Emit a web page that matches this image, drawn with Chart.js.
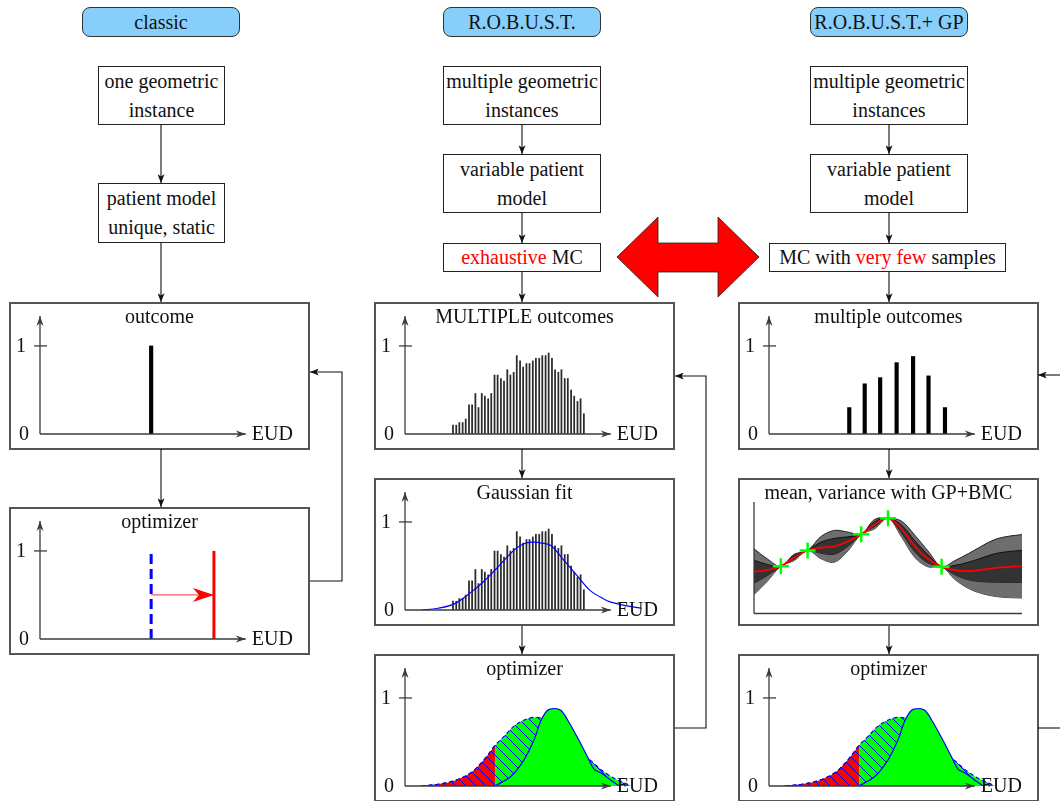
<!DOCTYPE html>
<html>
<head>
<meta charset="utf-8">
<title>classic / R.O.B.U.S.T. / R.O.B.U.S.T.+ GP</title>
<script src="https://cdn.jsdelivr.net/npm/chart.js@4.4.1/dist/chart.umd.min.js"></script>
<style>
  body { margin: 0; background: #fff; }
  #page { position: relative; width: 1060px; height: 801px; overflow: hidden;
          font-family: "Liberation Serif", "Times New Roman", serif; color: #111; }
  .pill { position: absolute; height: 30px; background: #87cefa; border: 1px solid #333;
          border-radius: 8px; box-sizing: border-box; font-size: 20px; line-height: 28px; text-align: center; }
  .box { position: absolute; border: 1px solid #222; box-sizing: border-box; background: #fff;
         font-size: 20px; line-height: 29px; display: flex; align-items: center; justify-content: center; text-align: center; }
  .panel { position: absolute; width: 301px; height: 148px; border: 2px solid #555; box-sizing: border-box; background: #fff; }
  .panel canvas { position: absolute; left: 0; top: 0; }
  .panel .ttl { position: absolute; left: 0; right: 0; top: 0; text-align: center; font-size: 20px; line-height: 24px; }
  .red { color: #ff0000; }
  svg { position: absolute; left: 0; top: 0; }
</style>
</head>
<body>
<div id="page">
  <div class="pill" style="left:82px;top:7px;width:158px">classic</div>
  <div class="pill" style="left:443px;top:7px;width:158px">R.O.B.U.S.T.</div>
  <div class="pill" style="left:810px;top:7px;width:158px">R.O.B.U.S.T.+ GP</div>

  <div class="box" style="left:98px;top:66px;width:127px;height:59px">one geometric<br>instance</div>
  <div class="box" style="left:98px;top:183px;width:127px;height:60px">patient model<br>unique, static</div>

  <div class="box" style="left:443px;top:66px;width:158px;height:59px">multiple geometric<br>instances</div>
  <div class="box" style="left:443px;top:154px;width:158px;height:59px">variable patient<br>model</div>
  <div class="box" style="left:443px;top:243px;width:158px;height:29px"><span class="red">exhaustive</span>&nbsp;MC</div>

  <div class="box" style="left:810px;top:66px;width:158px;height:59px">multiple geometric<br>instances</div>
  <div class="box" style="left:810px;top:154px;width:158px;height:59px">variable patient<br>model</div>
  <div class="box" style="left:769px;top:243px;width:237px;height:29px">MC with&nbsp;<span class="red">very few</span>&nbsp;samples</div>
</div>

<script>
// ---- data (EUD on a 0..100 axis, height on a 0..1 axis) ----
const yTickValues = [0, 1];
const yTickLabels = ['0', '1'];
const xAxisLabel = 'EUD';

// classic
const classicEUD = [54];
const classicHeight = [1];
const oldEUD = [54];
const newEUD = [84.5];
const shiftLevel = [0.5];

// R.O.B.U.S.T. histogram (exhaustive MC)
const histEUD = [23.3, 24.9, 26.4, 28.0, 29.5, 31.1, 32.6, 34.2, 35.7, 37.3, 38.8, 40.4, 41.9, 43.5,
                 45.0, 46.6, 48.1, 49.7, 51.2, 52.8, 54.3, 55.9, 57.4, 59.0, 60.5, 62.1, 63.6, 65.2,
                 66.7, 68.3, 69.8, 71.4, 72.9, 74.5, 76.0, 77.6, 79.1, 80.7, 82.2, 83.8, 85.3, 86.9];
const histCount = [0.10, 0.10, 0.13, 0.13, 0.17, 0.33, 0.33, 0.46, 0.30, 0.46, 0.43, 0.40, 0.46, 0.67,
                   0.67, 0.63, 0.60, 0.73, 0.67, 0.70, 0.89, 0.83, 0.76, 0.80, 0.80, 0.83, 0.86, 0.86,
                   0.89, 0.89, 0.92, 0.86, 0.73, 0.70, 0.73, 0.63, 0.63, 0.50, 0.43, 0.37, 0.40, 0.23];

// Gaussian fit
const gaussEUD = [8, 16, 24, 32, 38.5, 44, 48, 53, 57.5, 62, 66.5, 71, 77, 84, 90, 97, 100, 107, 115];
const gaussY = [0.0, 0.02, 0.07, 0.20, 0.33, 0.46, 0.56, 0.68, 0.75, 0.77, 0.76, 0.73, 0.57, 0.38, 0.22, 0.12, 0.09, 0.05, 0.02];

// optimizer: old (broad, hatched) and new (narrow) distributions
const broadEUD = [8, 16, 24, 32, 38.5, 43.7, 48, 53, 58, 63, 68, 73, 78, 83, 88, 93, 98, 103, 110];
const broadY = [0.0, 0.02, 0.06, 0.15, 0.30, 0.46, 0.56, 0.68, 0.75, 0.78, 0.76, 0.70, 0.60, 0.47, 0.34, 0.23, 0.14, 0.07, 0.0];
const cutoffEUD = 43.7;
const narrowEUD = [43.7, 51.5, 57.9, 62.8, 66.0, 69.3, 72.5, 75.7, 79.0, 83.8, 88.7, 91.9, 95.1, 99.2, 104];
const narrowY = [0.0, 0.11, 0.30, 0.53, 0.74, 0.86, 0.88, 0.86, 0.75, 0.55, 0.33, 0.19, 0.15, 0.08, 0.0];

// R.O.B.U.S.T.+ GP: very few samples
const fewEUD = [39, 46.5, 54, 62, 70, 77.5, 85.5];
const fewY = [0.30, 0.57, 0.64, 0.81, 0.88, 0.66, 0.30];

// GP + BMC mean / variance bands
const gpX = [0, 0.5, 1, 1.5, 2, 2.5, 3, 3.5, 4, 4.5, 5, 5.5, 6, 6.5, 7, 7.5, 8, 8.5, 9, 9.5, 10];
const gpMean = [0.44, 0.457, 0.497, 0.59, 0.663, 0.693, 0.707, 0.757, 0.833, 0.94, 1.003,
                0.89, 0.707, 0.573, 0.493, 0.457, 0.447, 0.46, 0.48, 0.49, 0.497];
const gpOuterHi = [0.68, 0.574, 0.497, 0.623, 0.663, 0.81, 0.874, 0.857, 0.833, 0.99, 1.003,
                   0.973, 0.824, 0.656, 0.493, 0.557, 0.63, 0.71, 0.78, 0.813, 0.83];
const gpOuterLo = [0.20, 0.34, 0.497, 0.557, 0.663, 0.576, 0.54, 0.657, 0.833, 0.89, 1.003,
                   0.807, 0.59, 0.49, 0.493, 0.357, 0.264, 0.21, 0.18, 0.167, 0.164];
const gpInnerHi = [0.56, 0.515, 0.497, 0.607, 0.663, 0.751, 0.79, 0.807, 0.833, 0.965, 1.003,
                   0.932, 0.765, 0.615, 0.493, 0.507, 0.539, 0.585, 0.63, 0.652, 0.664];
const gpInnerLo = [0.32, 0.399, 0.497, 0.573, 0.663, 0.635, 0.624, 0.707, 0.833, 0.915, 1.003,
                   0.848, 0.649, 0.531, 0.493, 0.407, 0.355, 0.335, 0.33, 0.328, 0.33];
const gpSampleX = [1, 2, 4, 5, 7];
const gpSampleY = [0.497, 0.663, 0.833, 1.003, 0.493];

// ---- helpers ----
const page = document.getElementById('page');

function pts(xs, ys) {
    return xs.map(function(x, i) { return { x: x, y: ys[i] }; });
}

function makePanel(left, top, title) {
    const div = document.createElement('div');
    div.className = 'panel';
    div.style.left = left + 'px';
    div.style.top = top + 'px';
    const cv = document.createElement('canvas');
    cv.width = 297;
    cv.height = 144;
    div.appendChild(cv);
    const t = document.createElement('div');
    t.className = 'ttl';
    t.textContent = title;
    div.appendChild(t);
    page.appendChild(div);
    return cv;
}

function head(ctx, x, y, dx, dy, len, half, notch) {
    const nx = -dy, ny = dx;
    ctx.beginPath();
    ctx.moveTo(x, y);
    ctx.lineTo(x - dx * len + nx * half, y - dy * len + ny * half);
    ctx.lineTo(x - dx * notch, y - dy * notch);
    ctx.lineTo(x - dx * len - nx * half, y - dy * len - ny * half);
    ctx.closePath();
    ctx.fill();
}

// diagonal blue hatching on a coloured ground
function hatch(canvas, bg) {
    const n = 10;
    const c = document.createElement('canvas');
    c.width = n; c.height = n;
    const g = c.getContext('2d');
    g.fillStyle = bg;
    g.fillRect(0, 0, n, n);
    g.strokeStyle = '#0000ff';
    g.lineWidth = 1;
    g.beginPath();
    g.moveTo(-2, -2); g.lineTo(n + 2, n + 2);
    g.moveTo(-2, n - 2); g.lineTo(2, n + 2);
    g.moveTo(n - 2, -2); g.lineTo(n + 2, 2);
    g.stroke();
    return canvas.getContext('2d').createPattern(c, 'repeat');
}

// axes with arrows, tick "1", labels
const arrowAxes = {
    id: 'arrowAxes',
    afterDatasetsDraw(chart, args, o) {
        if (!o || !o.on) return;
        const ctx = chart.ctx;
        const xs = chart.scales.x, ys = chart.scales.y;
        const x0 = xs.getPixelForValue(0), y0 = ys.getPixelForValue(0);
        const x1 = xs.getPixelForValue(o.xEnd);
        const yTop = chart.chartArea.top;
        ctx.save();
        // red shift arrow head (classic optimizer)
        if (o.shiftDataset !== undefined) {
            const el = chart.getDatasetMeta(o.shiftDataset).data;
            const last = el[el.length - 1];
            ctx.fillStyle = '#ff0000';
            head(ctx, last.x, last.y, 1, 0, 21, 7, 15);
        }
        ctx.strokeStyle = '#3c3c3c';
        ctx.fillStyle = '#3c3c3c';
        ctx.lineWidth = 1.3;
        ctx.beginPath();
        ctx.moveTo(x0, y0); ctx.lineTo(x1, y0);
        ctx.moveTo(x0, y0); ctx.lineTo(x0, yTop);
        ctx.stroke();
        if (o.arrows) {
            head(ctx, x1, y0, 1, 0, 10, 3.5, 7);
            head(ctx, x0, yTop, 0, -1, 10, 3.5, 7);
            ctx.font = '20px "Liberation Serif", serif';
            ctx.textBaseline = 'middle';
            yTickValues.forEach(function(v, i) {
                const yp = ys.getPixelForValue(v);
                if (v !== 0) {
                    ctx.beginPath(); ctx.moveTo(x0 - 6, yp); ctx.lineTo(x0 + 7, yp); ctx.stroke();
                }
                ctx.fillStyle = '#111';
                ctx.textAlign = 'right';
                ctx.fillText(yTickLabels[i], x0 - (v !== 0 ? 14 : 11), yp + 1);
            });
            ctx.textAlign = 'left';
            ctx.fillText(xAxisLabel, x1 + 6, y0 + 1);
        }
        ctx.restore();
    }
};
Chart.register(arrowAxes);

function options(axisOpts, gp) {
    return {
        responsive: false,
        animation: false,
        events: [],
        layout: { padding: gp ? { left: 14, right: 15, top: 22, bottom: 5 }
                              : { left: 29, right: 21, top: 12, bottom: 14 } },
        plugins: { legend: { display: false }, tooltip: { enabled: false }, arrowAxes: axisOpts },
        elements: { point: { radius: 0 }, line: { tension: 0.35 } },
        scales: {
            x: { type: 'linear', display: false, offset: false, min: 0, max: gp ? 10 : 120 },
            y: { type: 'linear', display: false, min: 0, max: gp ? 1.173 : 1.34 }
        }
    };
}

const stdAxes = { on: true, arrows: true, xEnd: 100 };

// ---- classic: outcome ----
new Chart(makePanel(9, 302, 'outcome'), {
    type: 'bar',
    data: { datasets: [{ data: pts(classicEUD, classicHeight), backgroundColor: '#000', barThickness: 3.5 }] },
    options: options(stdAxes)
});

// ---- classic: optimizer ----
new Chart(makePanel(9, 507, 'optimizer'), {
    type: 'line',
    data: { datasets: [
        { data: pts([oldEUD[0], oldEUD[0]], [0, classicHeight[0]]), borderColor: '#0000ff', borderWidth: 3, borderDash: [10, 5], tension: 0 },
        { data: pts([newEUD[0], newEUD[0]], [0, classicHeight[0]]), borderColor: '#ff0000', borderWidth: 3, tension: 0 },
        { data: pts([oldEUD[0], newEUD[0]], [shiftLevel[0], shiftLevel[0]]), borderColor: '#ff5a5a', borderWidth: 1.2, tension: 0 }
    ] },
    options: options(Object.assign({ shiftDataset: 2 }, stdAxes))
});

// ---- R.O.B.U.S.T.: MULTIPLE outcomes ----
new Chart(makePanel(374, 302, 'MULTIPLE outcomes'), {
    type: 'bar',
    data: { datasets: [{ data: pts(histEUD, histCount), backgroundColor: '#2a2a2a', barThickness: 1.1 }] },
    options: options(stdAxes)
});

// ---- R.O.B.U.S.T.: Gaussian fit ----
new Chart(makePanel(374, 478, 'Gaussian fit'), {
    type: 'bar',
    data: { datasets: [
        { type: 'line', data: pts(gaussEUD, gaussY), borderColor: '#0000ff', borderWidth: 1.2, fill: false, order: 0 },
        { data: pts(histEUD, histCount), backgroundColor: '#2a2a2a', barThickness: 1.1, order: 1 }
    ] },
    options: options(stdAxes)
});

// ---- optimizer with distributions (used twice) ----
function optimizerPanel(left, top) {
    const cv = makePanel(left, top, 'optimizer');
    const broad = pts(broadEUD, broadY);
    const leftPart = broad.filter(function(p) { return p.x <= cutoffEUD; });
    new Chart(cv, {
        type: 'line',
        data: { datasets: [
            { data: pts(narrowEUD, narrowY), borderColor: '#0000ff', borderWidth: 1.2,
              backgroundColor: '#00ff00', fill: 'origin', order: 0 },
            { data: pts([broadEUD[0], broadEUD[broadEUD.length - 1]], [0, 0]), borderColor: '#0000ff',
              borderWidth: 1.2, borderDash: [3, 3], tension: 0, order: 1 },
            { data: leftPart, borderColor: '#0000ff', borderWidth: 1.2, borderDash: [4, 3],
              backgroundColor: hatch(cv, '#ff0000'), fill: 'origin', order: 2 },
            { data: broad, borderColor: '#0000ff', borderWidth: 1.2, borderDash: [4, 3],
              backgroundColor: hatch(cv, '#00ff00'), fill: 'origin', order: 3 }
        ] },
        options: options(stdAxes)
    });
}
optimizerPanel(374, 654);

// ---- R.O.B.U.S.T.+ GP: multiple outcomes ----
new Chart(makePanel(738, 302, 'multiple outcomes'), {
    type: 'bar',
    data: { datasets: [{ data: pts(fewEUD, fewY), backgroundColor: '#000', barThickness: 3.5 }] },
    options: options(stdAxes)
});

// ---- R.O.B.U.S.T.+ GP: mean, variance ----
new Chart(makePanel(738, 478, 'mean, variance with GP+BMC'), {
    type: 'line',
    data: { datasets: [
        { data: pts(gpSampleX, gpSampleY), showLine: false, pointStyle: 'cross', pointRadius: 8,
          pointBorderColor: '#00ff00', pointBorderWidth: 2.5, order: -1 },
        { data: pts(gpX, gpMean), borderColor: '#ff0000', borderWidth: 1.8, order: 0 },
        { data: pts(gpX, gpInnerHi), borderColor: '#000', borderWidth: 0.8, backgroundColor: '#333333', fill: '+1', order: 1 },
        { data: pts(gpX, gpInnerLo), borderColor: '#000', borderWidth: 0.8, fill: false, order: 1 },
        { data: pts(gpX, gpOuterHi), borderColor: '#000', borderWidth: 0.8, backgroundColor: '#6e6e6e', fill: '+1', order: 2 },
        { data: pts(gpX, gpOuterLo), borderColor: '#000', borderWidth: 0.8, fill: false, order: 2 }
    ] },
    options: options({ on: true, arrows: false, xEnd: 10 }, true)
});

optimizerPanel(738, 654);

// ---- flow arrows and the big red double arrow ----
const svgNS = 'http://www.w3.org/2000/svg';
const svg = document.createElementNS(svgNS, 'svg');
svg.setAttribute('width', 1060);
svg.setAttribute('height', 801);
svg.innerHTML =
    '<defs><marker id="ah" viewBox="0 0 10 8" refX="10" refY="4" markerWidth="9" markerHeight="7" ' +
    'markerUnits="userSpaceOnUse" orient="auto"><path d="M0,0 L10,4 L0,8 L2.5,4 z" fill="#111"/></marker></defs>';
const flows = [
    [[161, 125], [161, 183]], [[161, 243], [161, 302]], [[161, 449], [161, 507]],
    [[310, 581], [342, 581], [342, 372], [310, 372]],
    [[522, 125], [522, 154]], [[522, 213], [522, 243]], [[522, 272], [522, 302]],
    [[522, 449], [522, 478]], [[522, 626], [522, 654]],
    [[675, 728], [706, 728], [706, 376], [675, 376]],
    [[889, 125], [889, 154]], [[889, 213], [889, 243]], [[889, 272], [889, 302]],
    [[889, 449], [889, 478]], [[889, 626], [889, 654]],
    [[1038, 728], [1062, 728]], [[1062, 375], [1038, 375]]
];
flows.forEach(function(f, i) {
    const pl = document.createElementNS(svgNS, 'polyline');
    pl.setAttribute('points', f.map(function(p) { return p.join(','); }).join(' '));
    pl.setAttribute('fill', 'none');
    pl.setAttribute('stroke', '#111');
    pl.setAttribute('stroke-width', '1.1');
    if (i !== 15) pl.setAttribute('marker-end', 'url(#ah)');
    svg.appendChild(pl);
});
const big = document.createElementNS(svgNS, 'polygon');
big.setAttribute('points', '617,257 658,217 658,243 718,243 718,217 759,257 718,297 718,272 658,272 658,297');
big.setAttribute('fill', '#ff0000');
big.setAttribute('stroke', '#222');
big.setAttribute('stroke-width', '0.8');
svg.appendChild(big);
page.appendChild(svg);
</script>
</body>
</html>
